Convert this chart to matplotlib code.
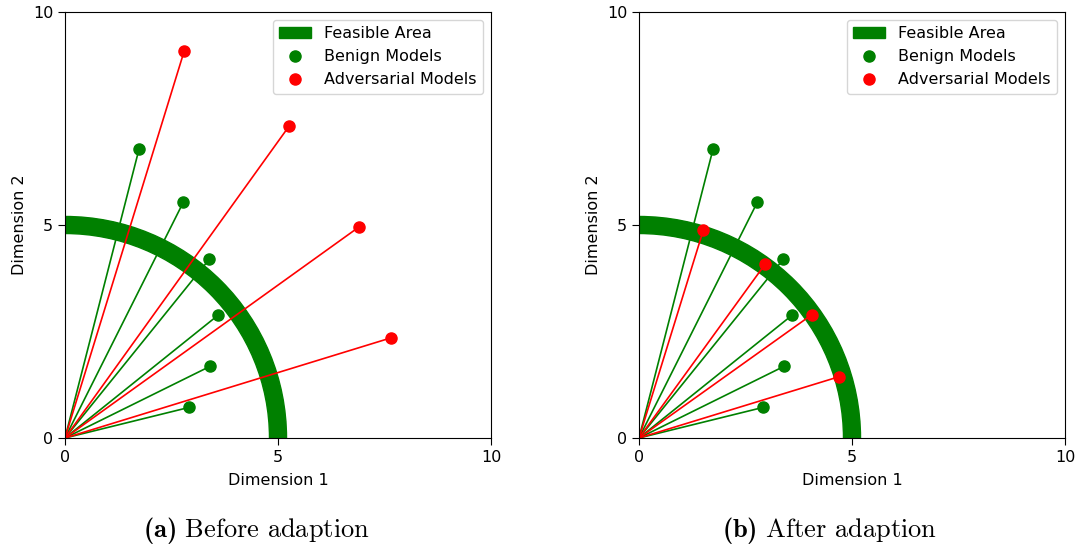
import matplotlib.pyplot as plt
from matplotlib.patches import Wedge

plt.rcParams['mathtext.fontset'] = 'custom'
plt.rcParams['mathtext.rm'] = 'cmr10'
plt.rcParams['mathtext.bf'] = 'cmb10'

# Model update positions in 2D
benign_x = [1.74, 2.78, 3.39, 3.59, 3.40, 2.92]
benign_y = [6.79, 5.54, 4.20, 2.88, 1.68, 0.72]

adv_before_x = [2.80, 5.26, 6.91, 7.65]
adv_before_y = [9.09, 7.32, 4.96, 2.35]

adv_after_x = [1.51, 2.96, 4.05, 4.70]
adv_after_y = [4.88, 4.08, 2.89, 1.44]

feasible_radius = 5.0
ticks = [0, 5, 10]
captions = [r'$\mathbf{(a)}\ \mathrm{Before\ adaption}$',
            r'$\mathbf{(b)}\ \mathrm{After\ adaption}$']


def draw_panel(ax, adv_x, adv_y):
    ring = Wedge((0, 0), feasible_radius + 0.2, 0, 90, width=0.4,
                 color='green', label='Feasible Area', zorder=1)
    ax.add_patch(ring)
    for x, y in zip(benign_x, benign_y):
        ax.plot([0, x], [0, y], color='green', lw=1.2, zorder=2)
    for x, y in zip(adv_x, adv_y):
        ax.plot([0, x], [0, y], color='red', lw=1.2, zorder=2)
    ax.plot(benign_x, benign_y, 'o', color='green', ms=8, zorder=3,
            label='Benign Models')
    ax.plot(adv_x, adv_y, 'o', color='red', ms=8, zorder=3,
            label='Adversarial Models')
    ax.set_xlim(0, 10)
    ax.set_ylim(0, 10)
    ax.set_xticks(ticks)
    ax.set_yticks(ticks)
    ax.tick_params(labelsize=11.5, length=5)
    ax.set_xlabel('Dimension 1', fontsize=11.5, labelpad=6)
    ax.set_ylabel('Dimension 2', fontsize=11.5)
    ax.legend(loc='upper right', fontsize=11.5)


fig = plt.figure(figsize=(10.77, 5.45), dpi=100)
ax1 = fig.add_axes([65 / 1077, 107 / 545, 426 / 1077, 426 / 545])
ax2 = fig.add_axes([639 / 1077, 107 / 545, 426 / 1077, 426 / 545])

draw_panel(ax1, adv_before_x, adv_before_y)
draw_panel(ax2, adv_after_x, adv_after_y)

fig.text(256 / 1077, 1 - 530 / 545, captions[0], ha='center', va='center', fontsize=19)
fig.text(830 / 1077, 1 - 530 / 545, captions[1], ha='center', va='center', fontsize=19)

fig.savefig('out.png', dpi=100)
